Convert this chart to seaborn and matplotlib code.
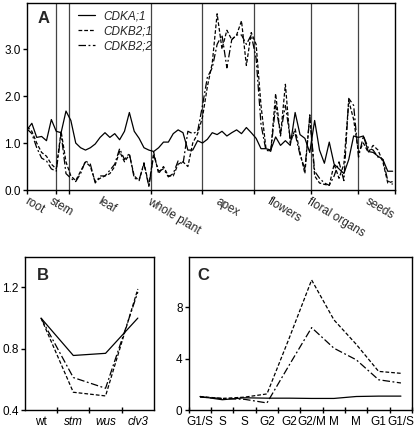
import numpy as np
import pandas as pd
import matplotlib
matplotlib.use('Agg')
import matplotlib.pyplot as plt
import seaborn as sns

# %% data - panel A (expression along tissue series, sample index)
cdka1 = [1.28, 1.42, 1.12, 1.14, 1.05, 1.50, 1.25, 1.22, 1.68, 1.48,
         1.00, 0.90, 0.85, 0.90, 0.98, 1.12, 1.22, 1.12, 1.20, 1.07,
         1.25, 1.65, 1.25, 1.10, 0.90, 0.85, 0.82, 0.90, 1.02, 1.02,
         1.20, 1.28, 1.22, 0.85, 0.85, 1.05, 1.00, 1.08, 1.22, 1.18,
         1.25, 1.15, 1.22, 1.28, 1.20, 1.33, 1.22, 1.10, 0.88, 0.88,
         0.85, 1.13, 0.95, 1.05, 0.95, 1.65, 1.18, 1.10, 0.80, 1.48,
         0.85, 0.57, 1.02, 0.55, 0.45, 0.35, 0.65, 1.15, 1.12, 1.15,
         0.82, 0.80, 0.72, 0.65, 0.40, 0.40]
cdkb21 = [1.35, 1.25, 1.00, 0.80, 0.72, 0.55, 0.45, 1.25, 0.60, 0.30,
          0.20, 0.40, 0.60, 0.50, 0.18, 0.25, 0.30, 0.35, 0.50, 0.82,
          0.60, 0.75, 0.30, 0.20, 0.58, 0.10, 0.80, 0.35, 0.50, 0.30,
          0.30, 0.55, 0.60, 0.50, 1.00, 1.20, 1.55, 2.20, 2.70, 3.75,
          3.00, 3.40, 3.20, 3.30, 3.60, 2.65, 3.35, 3.10, 1.80, 0.90,
          0.82, 2.05, 1.15, 2.25, 1.00, 1.30, 0.80, 0.35, 1.60, 0.30,
          0.15, 0.12, 0.10, 0.55, 0.25, 0.55, 1.90, 1.50, 0.80, 1.00,
          0.80, 0.95, 0.85, 0.60, 0.15, 0.18]
cdkb22 = [1.30, 1.20, 0.90, 0.68, 0.62, 0.45, 0.40, 1.20, 0.35, 0.25,
          0.18, 0.35, 0.62, 0.55, 0.15, 0.30, 0.30, 0.42, 0.55, 0.88,
          0.65, 0.78, 0.25, 0.22, 0.55, 0.08, 0.75, 0.40, 0.45, 0.28,
          0.35, 0.62, 0.55, 1.25, 1.20, 1.25, 1.80, 2.40, 2.60, 3.10,
          3.30, 2.60, 3.20, 3.30, 3.30, 3.10, 3.30, 2.80, 1.40, 0.85,
          0.82, 1.80, 1.20, 1.80, 1.10, 1.20, 0.75, 0.45, 1.55, 0.40,
          0.25, 0.15, 0.10, 0.30, 0.60, 0.20, 1.95, 1.80, 0.70, 1.15,
          0.90, 0.85, 0.70, 0.65, 0.20, 0.12]
tissue_bounds = [5.95, 8.68, 25.43, 35.9, 46.55, 58.17, 67.8]
tissues = ['root', 'stem', 'leaf', 'whole plant', 'apex', 'flowers',
           'floral organs', 'seeds']
tissue_label_x = [0.0, 5.1, 15.0, 25.2, 39.2, 49.8, 58.0, 69.9]

# panel B (meristem mutants)
mutants = ['wt', 'stm', 'wus', 'clv3']
b_cdka1 = [1.00, 0.756, 0.77, 1.00]
b_cdkb21 = [1.00, 0.516, 0.492, 1.19]
b_cdkb22 = [1.00, 0.612, 0.542, 1.17]

# panel C (cell cycle phases)
phases = ['G1/S', 'S', 'S', 'G2', 'G2', 'G2/M', 'M', 'M', 'G1', 'G1/S']
c_cdka1 = [1.05, 0.80, 0.95, 0.92, 0.92, 0.90, 0.90, 1.05, 1.08, 1.08]
c_cdkb21 = [1.05, 0.90, 1.00, 1.25, 5.60, 10.1, 7.00, 5.10, 3.00, 2.85]
c_cdkb22 = [1.00, 0.90, 0.83, 0.55, 3.50, 6.40, 4.80, 3.90, 2.35, 2.10]

genes = ['CDKA;1', 'CDKB2;1', 'CDKB2;2']
dash_map = {'CDKA;1': '', 'CDKB2;1': (3, 1.6), 'CDKB2;2': (6, 2, 1.5, 2)}


def long_df(x, series):
    frames = []
    for g, vals in zip(genes, series):
        frames.append(pd.DataFrame({'x': x, 'y': vals, 'gene': g}))
    return pd.concat(frames, ignore_index=True)


sns.set_theme(style='ticks')
plt.rcParams['font.family'] = ['Liberation Sans', 'DejaVu Sans']
plt.rcParams['font.size'] = 8.5
plt.rcParams['axes.linewidth'] = 1.0
plt.rcParams['xtick.color'] = 'black'
plt.rcParams['ytick.color'] = 'black'

fig = plt.figure(figsize=(4.15, 4.28), dpi=100)
axA = fig.add_axes([0.065, 0.556, 0.887, 0.437])
axB = fig.add_axes([0.060, 0.042, 0.311, 0.358])
axC = fig.add_axes([0.455, 0.042, 0.538, 0.358])

# %% panel A
dfA = long_df(np.arange(len(cdka1)), [cdka1, cdkb21, cdkb22])
sns.lineplot(data=dfA, x='x', y='y', style='gene', dashes=dash_map,
             color='black', linewidth=0.9, ax=axA, legend=True)
for b in tissue_bounds:
    axA.axvline(b, color='#444444', lw=0.9, zorder=0)
axA.set_xlim(0, 75.5)
axA.set_ylim(0, 3.98)
axA.set_yticks([0, 1, 2, 3])
axA.set_yticklabels(['0.0', '1.0', '2.0', '3.0'])
axA.set_xticks([0] + tissue_bounds + [75.5])
axA.set_xticklabels([])
axA.tick_params(axis='both', direction='out', length=3, width=1, labelsize=8.5, pad=1.5)
axA.set_xlabel('')
axA.set_ylabel('')
for lab, xl in zip(tissues, tissue_label_x):
    axA.text(xl + 0.3, -0.03, lab, transform=axA.get_xaxis_transform(),
             rotation=-31, rotation_mode='anchor', ha='left', va='top',
             fontsize=8.5)
h, l = axA.get_legend_handles_labels()
axA.legend(h, l, loc='upper left', bbox_to_anchor=(0.115, 1.005), frameon=False,
           prop={'style': 'italic', 'size': 8.5}, handlelength=1.5,
           handletextpad=0.7, labelspacing=0.25, borderpad=0.2)
axA.text(0.028, 0.955, 'A', transform=axA.transAxes, fontsize=12,
         fontweight='bold', va='top', ha='left')

# %% panel B
dfB = long_df(np.arange(len(mutants)), [b_cdka1, b_cdkb21, b_cdkb22])
sns.lineplot(data=dfB, x='x', y='y', style='gene', dashes=dash_map,
             color='black', linewidth=0.9, ax=axB, legend=False)
axB.set_xlim(-0.5, 3.5)
axB.set_ylim(0.4, 1.4)
axB.set_yticks([0.4, 0.8, 1.2])
axB.set_yticklabels(['0.4', '0.8', '1.2'])
axB.set_xticks(range(len(mutants)))
axB.set_xticklabels(mutants)
for i, t in enumerate(axB.get_xticklabels()):
    if i > 0:
        t.set_style('italic')
axB.set_xticks(np.arange(0.5, 3, 1), minor=True)
axB.tick_params(axis='x', which='major', length=0, labelsize=8.5, pad=4)
axB.tick_params(axis='x', which='minor', direction='inout', length=4, width=1)
axB.tick_params(axis='y', direction='out', length=3, width=1, labelsize=8.5, pad=1.5)
axB.set_xlabel('')
axB.set_ylabel('')
axB.text(0.09, 0.93, 'B', transform=axB.transAxes, fontsize=12,
         fontweight='bold', va='top', ha='left')

# %% panel C
dfC = long_df(np.arange(len(phases)), [c_cdka1, c_cdkb21, c_cdkb22])
sns.lineplot(data=dfC, x='x', y='y', style='gene', dashes=dash_map,
             color='black', linewidth=0.9, ax=axC, legend=False)
axC.set_xlim(-0.5, 9.5)
axC.set_ylim(0, 11.9)
axC.set_yticks([0, 4, 8])
axC.set_xticks(range(len(phases)))
axC.set_xticklabels(phases)
axC.set_xticks(np.arange(-0.5, 10, 1), minor=True)
axC.tick_params(axis='x', which='major', length=0, labelsize=8.5, pad=4)
axC.tick_params(axis='x', which='minor', direction='inout', length=4, width=1)
axC.tick_params(axis='y', direction='out', length=3, width=1, labelsize=8.5, pad=1.5)
axC.set_xlabel('')
axC.set_ylabel('')
axC.text(0.04, 0.93, 'C', transform=axC.transAxes, fontsize=12,
         fontweight='bold', va='top', ha='left')

for ax in (axA, axB, axC):
    for s in ax.spines.values():
        s.set_visible(True)
        s.set_color('black')

fig.savefig('out.png', dpi=100)
